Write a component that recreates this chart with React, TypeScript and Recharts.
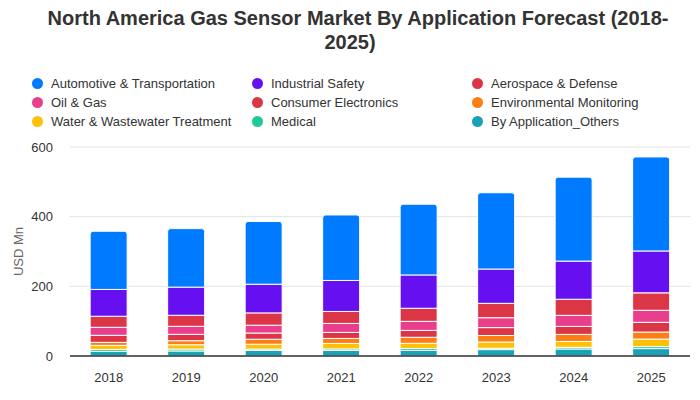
import React from 'react';
import { BarChart, Bar, XAxis, YAxis, CartesianGrid } from 'recharts';

const years = ['2018', '2019', '2020', '2021', '2022', '2023', '2024', '2025'];
const others = [13.5, 14.4, 15.8, 15.8, 16.3, 18.3, 20.2, 21.2];
const medical = [5.5, 5.5, 4, 4.5, 5.3, 4, 4.8, 5.8];
const water = [11.5, 12.5, 14, 15.8, 14.9, 17.8, 16.8, 21.6];
const environmental = [8.7, 11.5, 14.4, 14.4, 17.3, 18.8, 20.2, 20.2];
const consumer = [20.2, 18.3, 17.7, 17.2, 19.7, 22.6, 23, 27.9];
const oilGas = [23, 23, 22.5, 25.8, 26, 28.4, 31.7, 34.6];
const aerospace = [31.7, 31.7, 35.4, 34.4, 37.5, 41.3, 46.2, 50];
const industrial = [77, 80.8, 82.3, 89, 95.7, 98.5, 109.6, 120.2];
const automotive = [167, 168, 180, 188, 203, 219, 241, 270];
const yTicks = [0, 200, 400, 600];

const series = [
  { key: 'others', name: 'By Application_Others', color: '#17a2b8', values: others },
  { key: 'medical', name: 'Medical', color: '#20c997', values: medical },
  { key: 'water', name: 'Water & Wastewater Treatment', color: '#ffc107', values: water },
  { key: 'environmental', name: 'Environmental Monitoring', color: '#fd7e14', values: environmental },
  { key: 'consumer', name: 'Consumer Electronics', color: '#dc3545', values: consumer },
  { key: 'oilGas', name: 'Oil & Gas', color: '#e83e8c', values: oilGas },
  { key: 'aerospace', name: 'Aerospace & Defense', color: '#dc3545', values: aerospace },
  { key: 'industrial', name: 'Industrial Safety', color: '#6610f2', values: industrial },
  { key: 'automotive', name: 'Automotive & Transportation', color: '#007bff', values: automotive },
];

const legendOrder = [
  'automotive', 'industrial', 'aerospace',
  'oilGas', 'consumer', 'environmental',
  'water', 'medical', 'others',
];

const data = years.map((y, i) => {
  const row: Record<string, string | number> = { year: y };
  series.forEach((s) => { row[s.key] = s.values[i]; });
  return row;
});

const FONT = '"Liberation Sans", Arial, sans-serif';

export default function App() {
  const colX = [32, 252, 472];
  const rowY = [83, 102, 121];
  return (
    <div style={{ position: 'absolute', left: 0, top: 0, width: 700, height: 400, background: '#fff', fontFamily: FONT }}>
      <div style={{ position: 'absolute', left: 0, top: 6, width: 700, textAlign: 'center', fontSize: 20, fontWeight: 'bold', color: '#333', lineHeight: '24px' }}>
        <div style={{ paddingLeft: 16 }}>North America Gas Sensor Market By Application Forecast (2018-</div>
        <div>2025)</div>
      </div>
      {legendOrder.map((k, i) => {
        const s = series.find((x) => x.key === k)!;
        const cx = colX[i % 3];
        const cy = rowY[Math.floor(i / 3)];
        return (
          <div key={k} style={{ position: 'absolute', left: cx, top: cy - 9, height: 18, display: 'flex', alignItems: 'center', fontSize: 13, color: '#333', whiteSpace: 'nowrap' }}>
            <span style={{ display: 'inline-block', width: 11, height: 11, borderRadius: '50%', background: s.color, marginRight: 8 }} />
            <span>{s.name}</span>
          </div>
        );
      })}
      <div style={{ position: 'absolute', left: 0, top: 0 }}>
        <BarChart width={700} height={400} data={data} margin={{ top: 147, right: 10, bottom: 14, left: 10 }} barCategoryGap="26%">
          <CartesianGrid vertical={false} stroke="#e3e3e3" />
          <XAxis dataKey="year" height={30} tickLine={false} axisLine={{ stroke: '#333', strokeWidth: 1.5 }} tickSize={0} tickMargin={17} tick={{ fill: '#333', fontSize: 13, fontFamily: FONT }} />
          <YAxis width={60} domain={[0, 600]} ticks={yTicks} axisLine={false} tickLine={false} tickSize={0} tickMargin={17} tick={{ fill: '#333', fontSize: 13, fontFamily: FONT }}
            label={{ value: 'USD Mn', angle: -90, position: 'insideLeft', offset: 8, style: { textAnchor: 'middle', fill: '#666', fontSize: 13, fontFamily: FONT } }} />
          {series.map((s, i) => (
            <Bar key={s.key} dataKey={s.key} name={s.name} stackId="a" fill={s.color} stroke="#fff" strokeWidth={1}
              radius={i === series.length - 1 ? [3, 3, 0, 0] : 0} isAnimationActive={false} />
          ))}
        </BarChart>
      </div>
    </div>
  );
}
